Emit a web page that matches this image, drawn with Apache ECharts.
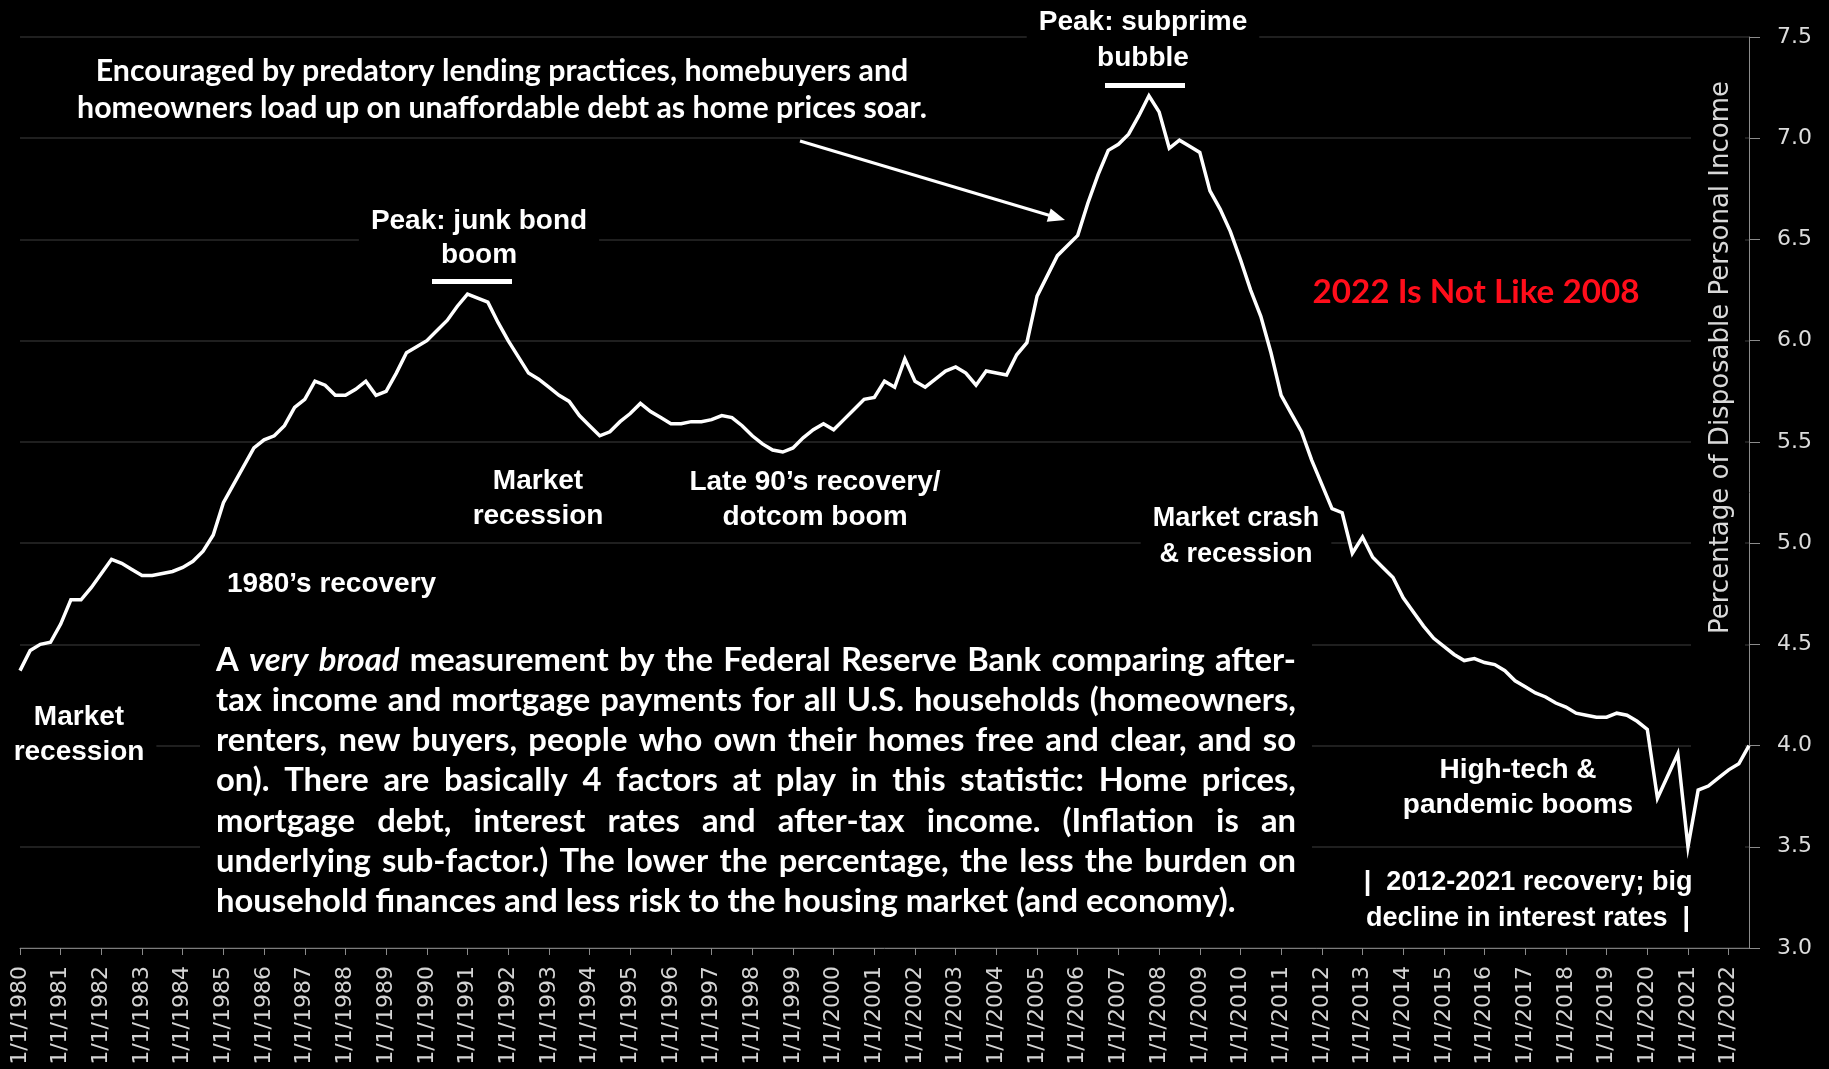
<!DOCTYPE html>
<html>
<head>
<meta charset="utf-8">
<title>Mortgage debt service as a share of disposable income</title>
<script src="https://cdn.jsdelivr.net/npm/echarts@6/dist/echarts.min.js"></script>
<style>
  html, body { margin: 0; padding: 0; background: #000; }
  #chart { width: 1829px; height: 1069px; }
</style>
</head>
<body>
<div id="chart"></div>
<script>
// Quarterly mortgage debt service payments, % of disposable personal income (Q1 1980 - Q3 2022)
const firstYear = 1980;
const quarterMonths = [1, 4, 7, 10];

const ratio1980s = [
  4.37, 4.47, 4.50, 4.51,   4.60, 4.72, 4.72, 4.78,   4.85, 4.92, 4.90, 4.87,
  4.84, 4.84, 4.85, 4.86,   4.88, 4.91, 4.96, 5.04,   5.20, 5.29, 5.38, 5.47,
  5.51, 5.53, 5.58, 5.67,   5.71, 5.80, 5.78, 5.73,   5.73, 5.76, 5.80, 5.73,
  5.75, 5.84, 5.94, 5.97
];
const ratio1990s = [
  6.00, 6.05, 6.10, 6.17,   6.23, 6.21, 6.19, 6.09,   6.00, 5.92, 5.84, 5.81,
  5.77, 5.73, 5.70, 5.63,   5.58, 5.53, 5.55, 5.60,   5.64, 5.69, 5.65, 5.62,
  5.59, 5.59, 5.60, 5.60,   5.61, 5.63, 5.62, 5.58,   5.53, 5.49, 5.46, 5.45,
  5.47, 5.52, 5.56, 5.59
];
const ratio2000s = [
  5.56, 5.61, 5.66, 5.71,   5.72, 5.80, 5.77, 5.91,   5.80, 5.77, 5.81, 5.85,
  5.87, 5.84, 5.78, 5.85,   5.84, 5.83, 5.93, 5.99,   6.22, 6.32, 6.42, 6.47,
  6.52, 6.68, 6.82, 6.94,   6.97, 7.02, 7.11, 7.21,   7.13, 6.95, 6.99, 6.96,
  6.93, 6.74, 6.65, 6.54
];
const ratio2010s = [
  6.40, 6.25, 6.12, 5.94,   5.73, 5.64, 5.55, 5.41,   5.29, 5.17, 5.15, 4.95,
  5.03, 4.93, 4.88, 4.83,   4.73, 4.66, 4.59, 4.53,   4.49, 4.45, 4.42, 4.43,
  4.41, 4.40, 4.37, 4.32,   4.29, 4.26, 4.24, 4.21,   4.19, 4.16, 4.15, 4.14,
  4.14, 4.16, 4.15, 4.12
];
const ratio2020s = [
  4.08, 3.74, 3.85, 3.96,   3.50, 3.78, 3.80, 3.84,   3.88, 3.91, 4.00
];

const yAxisMin = 3.0;
const yAxisMax = 7.5;
const yAxisStep = 0.5;

const mortgageRatio = [].concat(ratio1980s, ratio1990s, ratio2000s, ratio2010s, ratio2020s);

// "1/1/1980", "4/1/1980", ... one label per quarter
const quarterLabels = mortgageRatio.map((_, k) =>
  quarterMonths[k % 4] + '/1/' + (firstYear + Math.floor(k / 4)));

// ---- text helpers -------------------------------------------------------
const measureCtx = document.createElement('canvas').getContext('2d');
function fontString(f) {
  return (f.style || 'normal') + ' ' + (f.weight || 'normal') + ' ' + f.size + 'px "' + f.family + '"';
}
function textWidth(text, f) {
  measureCtx.font = fontString(f);
  return measureCtx.measureText(text).width;
}
function sizeForWidth(text, family, weight, width) {
  return 100 * width / textWidth(text, { family: family, weight: weight, size: 100 });
}
function textEl(text, x, y, o) {
  const style = {
    text: text,
    fill: o.fill || '#ffffff',
    fontFamily: o.family,
    fontSize: o.size,
    fontWeight: o.weight || 'bold',
    fontStyle: o.italic ? 'italic' : 'normal',
    textAlign: o.align || 'center',
    textVerticalAlign: 'middle',
    align: o.align || 'center',
    verticalAlign: 'middle'
  };
  if (o.lineHeight) style.lineHeight = o.lineHeight;
  if (o.box) { style.backgroundColor = '#000000'; style.padding = o.pad || [4, 12]; }
  return { type: 'text', x: x, y: y, z: 2, style: style };
}

// ---- callouts -------------------------------------------------------------
const calloutFamily = 'Liberation Sans';
const calloutSize = 28;
const callouts = [
  { text: 'Peak: subprime\nbubble',                    x: 1143, y: 40,  lh: 36 },
  { text: 'Peak: junk bond\nboom',                      x: 479,  y: 238, lh: 34 },
  { text: 'Market\nrecession',                          x: 79,   y: 735, lh: 35 },
  { text: '1980\u2019s recovery',                       x: 215,  y: 584, align: 'left' },
  { text: 'Market\nrecession',                          x: 538,  y: 499, lh: 35 },
  { text: 'Late 90\u2019s recovery/\ndotcom boom',      x: 815,  y: 500, lh: 35 },
  { text: 'Market crash\n& recession',                  x: 1236, y: 537, lh: 36, size: 27 },
  { text: 'High-tech &\npandemic booms',                x: 1518, y: 788, lh: 35 },
  { text: '|  2012-2021 recovery; big\ndecline in interest rates  |', x: 1528, y: 901, lh: 36, size: 27 }
];

// Headline about lending practices (two centred lines)
const lendingLines = [
  'Encouraged by predatory lending practices, homebuyers and',
  'homeowners load up on unaffordable debt as home prices soar.'
];
const headFamily = 'Lato';
const headSize = sizeForWidth(lendingLines[1], headFamily, 'bold', 850);

const contrastText = '2022 Is Not Like 2008';
const contrastSize = sizeForWidth(contrastText, headFamily, 'bold', 327);

// Explanatory paragraph (justified, italic words wrapped in *)
const noteLines = [
  'A *very* *broad* measurement by the Federal Reserve Bank comparing after-',
  'tax income and mortgage payments for all U.S. households (homeowners,',
  'renters, new buyers, people who own their homes free and clear, and so',
  'on). There are basically 4 factors at play in this statistic: Home prices,',
  'mortgage debt, interest rates and after-tax income. (Inflation is an',
  'underlying sub-factor.) The lower the percentage, the less the burden on',
  'household finances and less risk to the housing market (and economy).'
];
const noteLeft = 216, noteWidth = 1080, noteFirstCenter = 660, noteStep = 40.3, noteLastWidth = 1020;

function paragraphElements() {
  const fam = 'Lato', weight = 'bold';
  const size = sizeForWidth(noteLines[noteLines.length - 1], fam, weight, noteLastWidth);
  const space = textWidth(' ', { family: fam, weight: weight, size: size });
  const els = [{
    type: 'rect', z: 1,
    shape: { x: 200, y: 636, width: 1112, height: 296 },
    style: { fill: '#000000' }
  }];
  noteLines.forEach(function (line, row) {
    const words = line.split(' ').map(function (w) {
      return { t: w.replace(/\*/g, ''), italic: w.charAt(0) === '*' };
    });
    const widths = words.map(function (w) {
      return textWidth(w.t, { family: fam, weight: weight, size: size, style: w.italic ? 'italic' : 'normal' });
    });
    const total = widths.reduce(function (a, b) { return a + b; }, 0);
    const isLast = row === noteLines.length - 1;
    const gap = isLast ? space : Math.max(space * 0.6, (noteWidth - total) / (words.length - 1));
    let x = noteLeft;
    const y = noteFirstCenter + row * noteStep;
    words.forEach(function (w, i) {
      els.push(textEl(w.t, x, y, { family: fam, size: size, weight: weight, italic: w.italic, align: 'left' }));
      x += widths[i] + gap;
    });
  });
  return els;
}

function arrowElements(x1, y1, x2, y2) {
  const len = Math.hypot(x2 - x1, y2 - y1);
  const dx = (x2 - x1) / len, dy = (y2 - y1) / len;
  const headLen = 17, headHalf = 7;
  const bx = x2 - dx * headLen, by = y2 - dy * headLen;
  return [
    { type: 'line', z: 2, shape: { x1: x1, y1: y1, x2: bx + dx * 2, y2: by + dy * 2 },
      style: { stroke: '#ffffff', lineWidth: 3 } },
    { type: 'polygon', z: 2,
      shape: { points: [[x2, y2], [bx - dy * headHalf, by + dx * headHalf], [bx + dy * headHalf, by - dx * headHalf]] },
      style: { fill: '#ffffff' } }
  ];
}

const graphics = [];
callouts.forEach(function (c) {
  graphics.push(textEl(c.text, c.x, c.y, {
    family: calloutFamily, size: c.size || calloutSize, weight: 'bold',
    align: c.align || 'center', lineHeight: c.lh, box: true
  }));
});
graphics.push(textEl(lendingLines.join('\n'), 502, 90, {
  family: headFamily, size: headSize, weight: 'bold', lineHeight: 37, box: true, pad: [4, 14]
}));
graphics.push(textEl(contrastText, 1476, 292, {
  family: headFamily, size: contrastSize, weight: 'bold', fill: '#ff0d1a', box: true, pad: [6, 14]
}));
// underline bars marking the two peaks
graphics.push({ type: 'rect', z: 2, shape: { x: 432, y: 279, width: 80, height: 5 }, style: { fill: '#ffffff' } });
graphics.push({ type: 'rect', z: 2, shape: { x: 1105, y: 83, width: 80, height: 5 }, style: { fill: '#ffffff' } });
Array.prototype.push.apply(graphics, arrowElements(800, 141, 1065, 220));
Array.prototype.push.apply(graphics, paragraphElements());

const chart = echarts.init(document.getElementById('chart'), null, { renderer: 'canvas' });
chart.setOption({
  backgroundColor: '#000000',
  animation: false,
  grid: { left: 20, right: 80, top: 37, bottom: 121 },
  xAxis: {
    type: 'category',
    data: quarterLabels,
    boundaryGap: false,
    axisLine: { show: true, lineStyle: { color: '#7c7c7c', width: 1 } },
    axisTick: { show: true, interval: 3, length: 7, lineStyle: { color: '#8a8a8a' } },
    axisLabel: {
      interval: 3, rotate: 90, margin: 18,
      color: '#d4d4d4', fontFamily: 'DejaVu Sans', fontSize: 22
    },
    splitLine: { show: false }
  },
  yAxis: {
    type: 'value',
    position: 'right',
    min: yAxisMin, max: yAxisMax, interval: yAxisStep,
    name: 'Percentage of Disposable Personal Income',
    nameLocation: 'middle',
    nameRotate: 90,
    nameGap: -58,
    nameMoveOverlap: false,
    nameTextStyle: {
      color: '#d9d9d9', fontFamily: 'DejaVu Sans', fontSize: 26,
      backgroundColor: '#000000',
      // extra padding at the start of the title lifts it above the axis midpoint
      padding: [17, 10, 11, 280]
    },
    axisLine: { show: true, lineStyle: { color: '#8c8c8c', width: 1 } },
    axisTick: { show: true, length: 11, lineStyle: { color: '#8c8c8c' } },
    axisLabel: {
      margin: 28, color: '#dcdcdc', fontFamily: 'DejaVu Sans', fontSize: 22,
      formatter: function (v) { return v.toFixed(1); }
    },
    splitLine: { show: true, lineStyle: { color: '#2a2a2a', width: 1.5 } }
  },
  series: [{
    type: 'line',
    name: 'Mortgage debt service ratio',
    data: mortgageRatio,
    showSymbol: false,
    symbol: 'none',
    z: 3,
    lineStyle: { color: '#ffffff', width: 3.5, join: 'miter' }
  }],
  graphic: { elements: graphics }
});
</script>
</body>
</html>
